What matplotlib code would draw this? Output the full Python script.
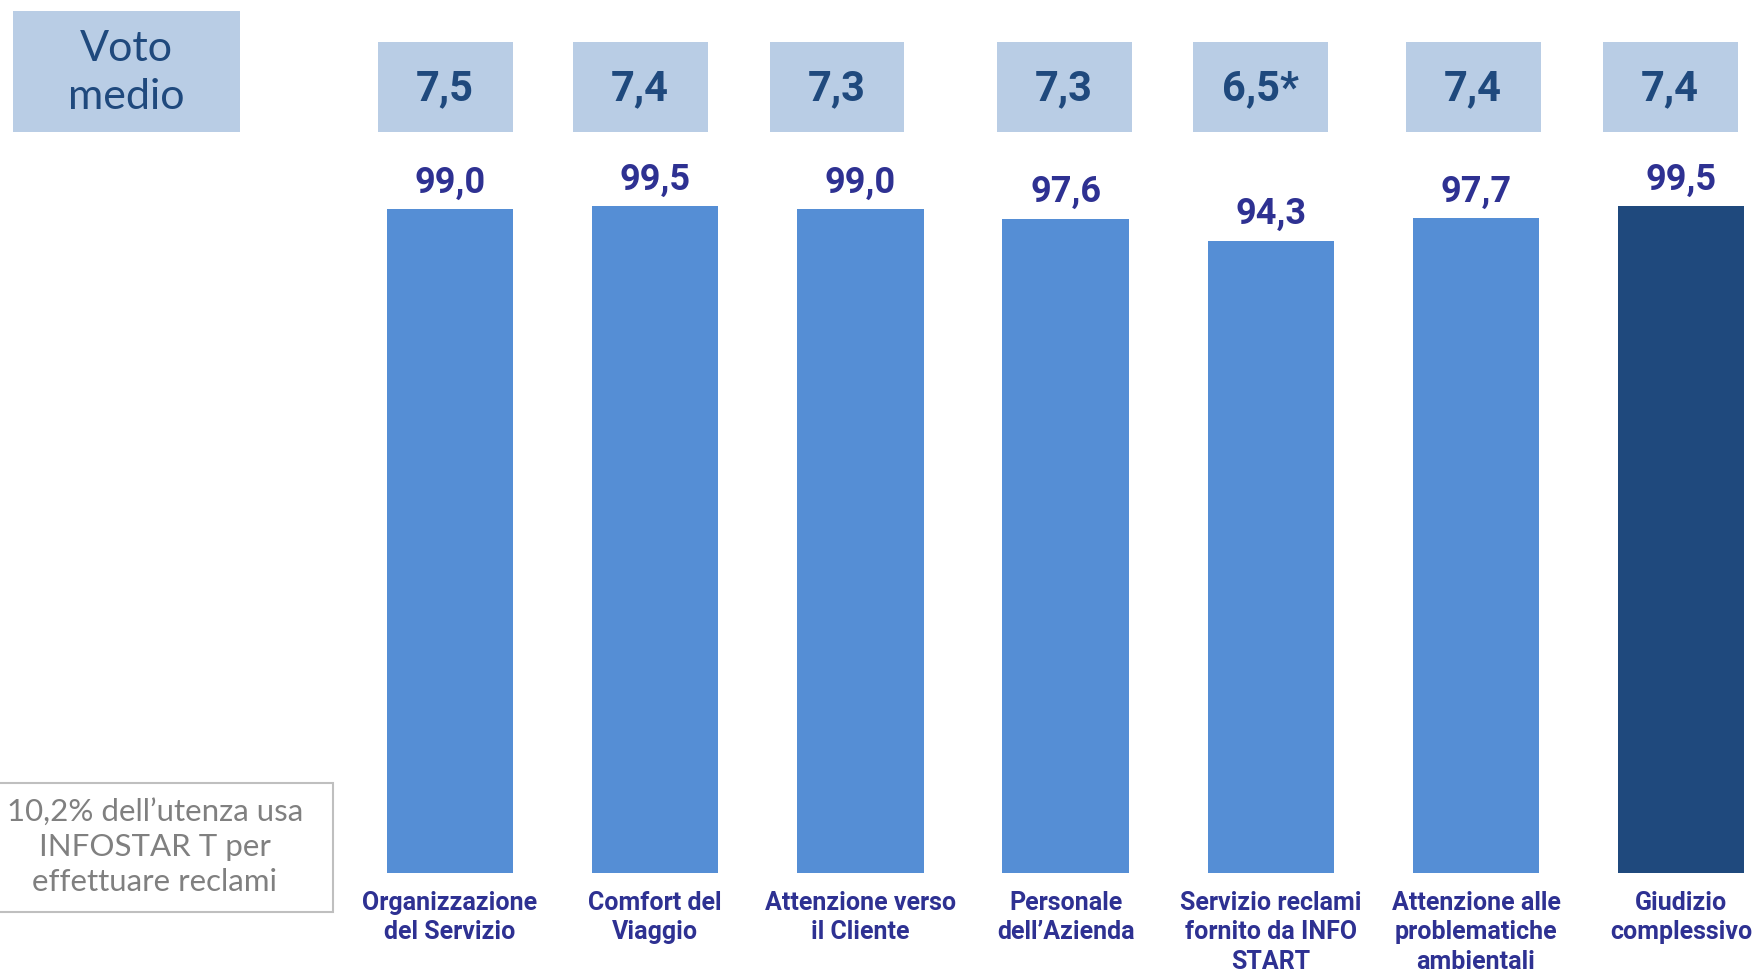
import numpy as np
import matplotlib.pyplot as plt
from matplotlib.patches import Rectangle

# categorie e valori
categorie = ['Organizzazione\ndel Servizio', 'Comfort del\nViaggio', 'Attenzione verso\nil Cliente',
             'Personale\ndell\u2019Azienda', 'Servizio reclami\nfornito da INFO\nSTART',
             'Attenzione alle\nproblematiche\nambientali', 'Giudizio\ncomplessivo']
soddisfatti = [99.0, 99.5, 99.0, 97.6, 94.3, 97.7, 99.5]
voto_medio = ['7,5', '7,4', '7,3', '7,3', '6,5*', '7,4', '7,4']

W, H = 1754, 975
box_x = [445, 640, 837, 1064, 1260, 1473, 1670]   # centri dei riquadri in pixel

light = '#558ED5'
dark = '#1F497D'
boxc = '#B9CDE5'
lab = '#2E3192'

plt.rcParams['font.family'] = ['Roboto', 'DejaVu Sans']

fig = plt.figure(figsize=(W / 100, H / 100), dpi=100)

def fx(x):
    return x / W

def fy(y):
    return 1 - y / H

# asse dei bar
step = 205.2
x0 = 450 - 0.5 * step
ax = fig.add_axes([fx(x0), fy(872.5), 6.85 * step / W, 670 / H])
x = np.arange(len(soddisfatti))
colori = [light] * (len(soddisfatti) - 1) + [dark]
bars = ax.bar(x, soddisfatti, width=0.616, color=colori)
ax.set_xlim(-0.5, 6.35)
ax.set_ylim(0, 100)
for s in ax.spines.values():
    s.set_visible(False)
ax.set_yticks([])
ax.set_xticks(x)
ax.set_xticklabels(categorie, fontsize=18, fontweight='bold', color=lab, linespacing=1.3)
ax.tick_params(axis='x', length=0, pad=13)

for b, v in zip(bars, soddisfatti):
    ax.annotate(f'{v:.1f}'.replace('.', ','), (b.get_x() + b.get_width() / 2, v),
                xytext=(0, 6), textcoords='offset points', ha='center', va='bottom',
                fontsize=26, fontweight='bold', color=lab, annotation_clip=False)

# riquadri voto medio
fig.patches.append(Rectangle((fx(13), fy(132)), 227 / W, 121 / H, transform=fig.transFigure,
                             facecolor=boxc, edgecolor='none'))
fig.text(fx(126), fy(73), 'Voto\nmedio', ha='center', va='center', fontsize=31,
         color=dark, linespacing=1.3, family=['Lato', 'DejaVu Sans'])

for cx, t in zip(box_x, voto_medio):
    fig.patches.append(Rectangle((fx(cx - 67.5), fy(132)), 135 / W, 90 / H,
                                 transform=fig.transFigure, facecolor=boxc, edgecolor='none'))
    fig.text(fx(cx), fy(89), t, ha='center', va='center', fontsize=30,
             fontweight='bold', color=dark)

# nota a sinistra
fig.patches.append(Rectangle((fx(-5), fy(912)), 338 / W, 129 / H, transform=fig.transFigure,
                             facecolor='white', edgecolor='#BFBFBF', linewidth=1.5))
fig.text(fx(155), fy(847), '10,2% dell\u2019utenza usa\nINFOSTAR T per\neffettuare reclami',
         ha='center', va='center', fontsize=22.5, color='#808080', linespacing=1.3,
         family=['Lato', 'DejaVu Sans'])

fig.savefig('out.png', dpi=100)
